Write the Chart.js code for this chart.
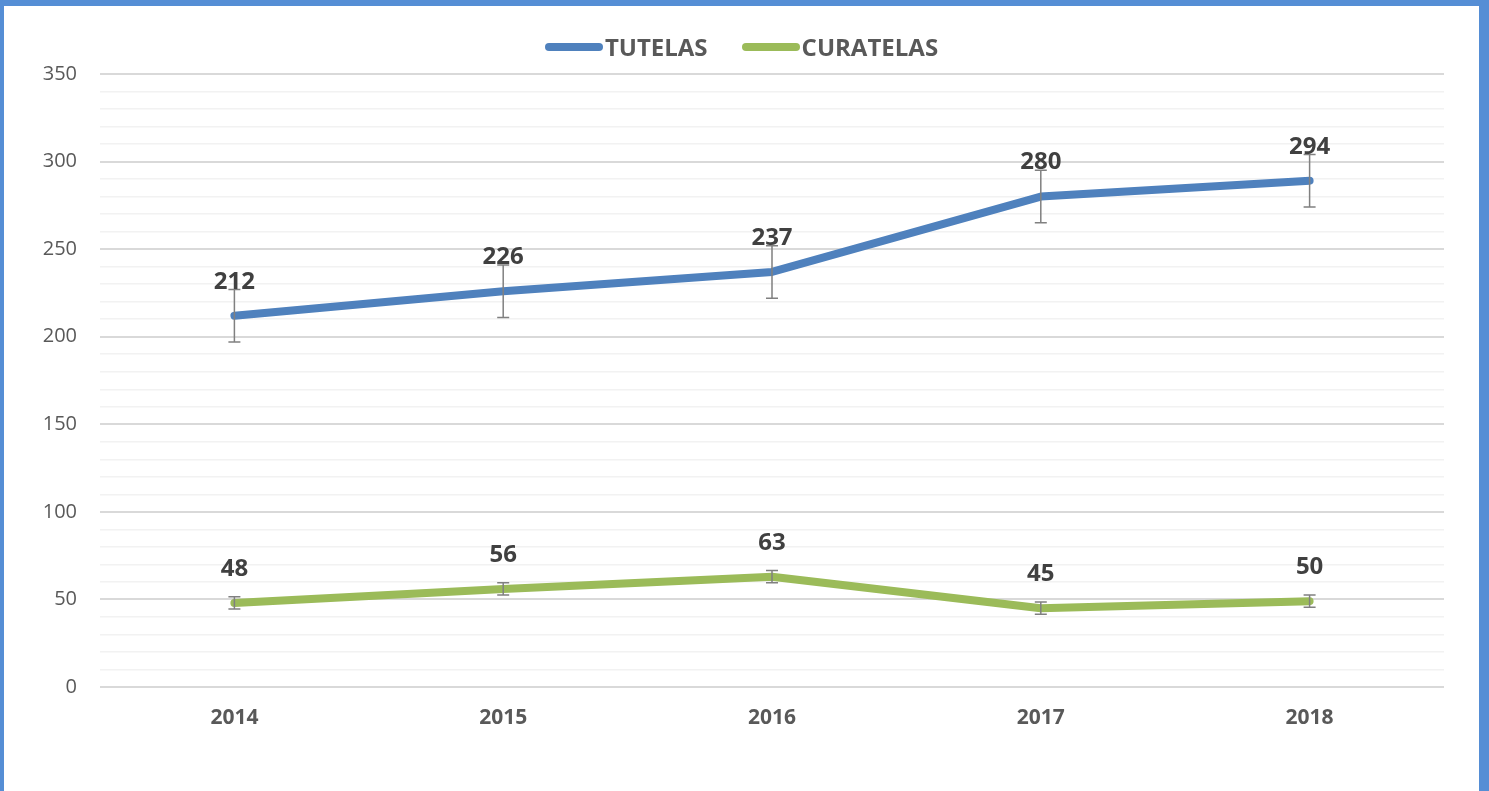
<!DOCTYPE html>
<html>
<head>
<meta charset="utf-8">
<script src="https://cdn.jsdelivr.net/npm/chart.js@4"></script>
<style>
  html, body { margin: 0; padding: 0; }
  body { width: 1489px; height: 791px; background: #558ed5; overflow: hidden; position: relative; }
  #frame { position: absolute; left: 4px; top: 6px; width: 1475px; height: 785px; background: #fff; }
  #chartBox { position: absolute; left: 0; top: 0; width: 1475px; height: 785px; }
  #legend { position: absolute; top: 24px; left: 0; width: 1475px; display: flex; justify-content: center;
            font-family: "Open Sans", sans-serif; font-weight: bold; font-size: 24px; color: #595959; }
  .item { display: flex; align-items: center; margin: 0 17px; }
  .swatch { width: 58px; height: 8px; border-radius: 4px; margin-right: 2px; }
</style>
</head>
<body>
<div id="frame">
  <div id="chartBox"><canvas id="lineChart"></canvas></div>
  <div id="legend"></div>
</div>
<script>
const years = ['2014', '2015', '2016', '2017', '2018'];
const tutelas = [212, 226, 237, 280, 289];
const tutelasLabels = ['212', '226', '237', '280', '294'];
const tutelasError = [15, 15, 15, 15, 15];
const curatelas = [48, 56, 63, 45, 49];
const curatelasLabels = ['48', '56', '63', '45', '50'];
const curatelasError = [3.5, 3.5, 3.5, 3.5, 3.5];
const yTicks = [0, 50, 100, 150, 200, 250, 300, 350];

const blue = '#4f81bd';
const green = '#9bbb59';

// error bars + value labels drawn over the lines
const extrasPlugin = {
    id: 'extras',
    afterDatasetsDraw(chart) {
        const ctx = chart.ctx;
        const yScale = chart.scales.y;
        chart.data.datasets.forEach((ds, i) => {
            const meta = chart.getDatasetMeta(i);
            meta.data.forEach((pt, j) => {
                const v = ds.data[j];
                const top = yScale.getPixelForValue(v + ds.errors[j]);
                const bot = yScale.getPixelForValue(v - ds.errors[j]);
                ctx.save();
                ctx.strokeStyle = '#808080';
                ctx.lineWidth = 1.5;
                ctx.beginPath();
                ctx.moveTo(pt.x, top); ctx.lineTo(pt.x, bot);
                ctx.moveTo(pt.x - 6, top); ctx.lineTo(pt.x + 6, top);
                ctx.moveTo(pt.x - 6, bot); ctx.lineTo(pt.x + 6, bot);
                ctx.stroke();
                ctx.fillStyle = '#404040';
                ctx.font = 'bold 24px "Open Sans", sans-serif';
                ctx.textAlign = 'center';
                ctx.textBaseline = 'middle';
                ctx.fillText(ds.valueLabels[j], pt.x, pt.y - 34);
                ctx.restore();
            });
        });
    }
};

function initializeChart() {
    const ctx = document.getElementById('lineChart').getContext('2d');
    new Chart(ctx, {
        type: 'line',
        data: {
            labels: years,
            datasets: [{
                label: 'TUTELAS',
                data: tutelas,
                errors: tutelasError,
                valueLabels: tutelasLabels,
                borderColor: blue,
                backgroundColor: blue,
                borderWidth: 8,
                borderCapStyle: 'round',
                borderJoinStyle: 'round',
                pointRadius: 0,
                tension: 0
            }, {
                label: 'CURATELAS',
                data: curatelas,
                errors: curatelasError,
                valueLabels: curatelasLabels,
                borderColor: green,
                backgroundColor: green,
                borderWidth: 8,
                borderCapStyle: 'round',
                borderJoinStyle: 'round',
                pointRadius: 0,
                tension: 0
            }]
        },
        options: {
            responsive: true,
            maintainAspectRatio: false,
            animation: false,
            events: [],
            layout: { padding: { top: 68, right: 35, bottom: 44, left: 0 } },
            plugins: {
                legend: { display: false },
                tooltip: { enabled: false }
            },
            scales: {
                x: {
                    offset: true,
                    border: { display: false },
                    grid: { display: false, drawTicks: false },
                    ticks: {
                        padding: 18,
                        color: '#595959',
                        font: { family: '"Open Sans", sans-serif', size: 21, weight: 'bold' }
                    },
                    afterFit(scale) { scale.height = 60; }
                },
                y: {
                    min: 0,
                    max: 350,
                    border: { display: false },
                    grid: {
                        drawTicks: false,
                        lineWidth: c => (c.tick.value % 50 === 0 ? 2 : 1.5),
                        color: c => (c.tick.value % 50 === 0 ? '#d9d9d9' : '#f2f2f2')
                    },
                    ticks: {
                        stepSize: 10,
                        autoSkip: false,
                        padding: 23,
                        color: '#595959',
                        font: { family: '"Open Sans", sans-serif', size: 20 },
                        callback: v => (yTicks.includes(v) ? v : '')
                    },
                    afterFit(scale) { scale.width = 96; }
                }
            }
        },
        plugins: [extrasPlugin]
    });
}

// html legend, line swatches like the original
function buildLegend() {
    const legend = document.getElementById('legend');
    [['TUTELAS', blue], ['CURATELAS', green]].forEach(([name, color]) => {
        const item = document.createElement('div');
        item.className = 'item';
        item.innerHTML = `<span class="swatch" style="background:${color}"></span><span>${name}</span>`;
        legend.appendChild(item);
    });
}

initializeChart();
buildLegend();
</script>
</body>
</html>
